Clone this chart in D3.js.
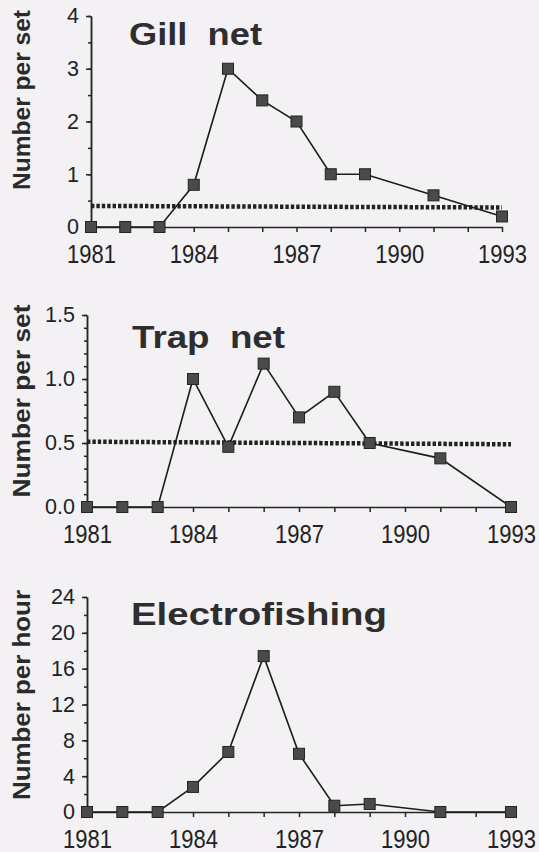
<!DOCTYPE html>
<html>
<head>
<meta charset="utf-8">
<script src="https://cdn.jsdelivr.net/npm/d3@7"></script>
<style>
  body { margin: 0; background: #f3f1f4; }
  svg { display: block; background: #f3f1f4; }
  .axis path, .axis line { stroke: #262626; stroke-width: 1.5; }
  .axis text { font-family: "Liberation Sans", Arial, Helvetica, sans-serif; fill: #222; }
  .title { font-family: "Liberation Sans", Arial, Helvetica, sans-serif; font-weight: bold; font-size: 31px; fill: #2e2e2e; white-space: pre; }
  .ylabel { font-family: "Liberation Sans", Arial, Helvetica, sans-serif; font-weight: bold; font-size: 23px; fill: #2a2a2a; }
</style>
</head>
<body>
<svg width="539" height="852"></svg>
<script>
// data
var years = [1981, 1982, 1983, 1984, 1985, 1986, 1987, 1988, 1989, 1991, 1993];
var gillNet = [0, 0, 0, 0.8, 3.0, 2.4, 2.0, 1.0, 1.0, 0.6, 0.2];
var trapNet = [0, 0, 0, 1.0, 0.47, 1.12, 0.7, 0.9, 0.5, 0.38, 0];
var electrofishing = [0, 0, 0, 2.8, 6.7, 17.4, 6.5, 0.7, 0.9, 0, 0];

// dotted reference lines (value at 1981, value at 1993)
var meanYears = [1981, 1993];
var gillMean = [0.40, 0.37];
var trapMean = [0.51, 0.49];

// axis ticks and labels
var yearTicks = [1981, 1984, 1987, 1990, 1993];
var gillTicks = [0, 1, 2, 3, 4];
var trapTicks = [0.0, 0.5, 1.0, 1.5];
var electroTicks = [0, 4, 8, 12, 16, 20, 24];
var titles = ["Gill  net", "Trap  net", "Electrofishing"];
var yLabels = ["Number per set", "Number per set", "Number per hour"];

var svg = d3.select("svg");

// layout of the three stacked panels
var panels = [
  { values: gillNet, mean: gillMean, ticks: gillTicks, minor: 0.5, fmt: d3.format("d"),
    left: 91, right: 502, top: 16, bottom: 227,
    titleX: 129, titleY: 45, titleW: 133, labelY: 100, labelW: 180 },
  { values: trapNet, mean: trapMean, ticks: trapTicks, minor: 0.1, fmt: d3.format(".1f"),
    left: 87, right: 511, top: 315, bottom: 507,
    titleX: 132, titleY: 348, titleW: 153, labelY: 401, labelW: 193 },
  { values: electrofishing, mean: null, ticks: electroTicks, minor: 2, fmt: d3.format("d"),
    left: 87, right: 511, top: 597, bottom: 812,
    titleX: 131, titleY: 625, titleW: 256, labelY: 695, labelW: 210 }
];

panels.forEach(function(p, i) {
  var yMax = p.ticks[p.ticks.length - 1];

  var x = d3.scaleLinear()
      .domain([1981, 1993])
      .range([p.left, p.right]);

  var y = d3.scaleLinear()
      .domain([0, yMax])
      .range([p.bottom, p.top]);

  var g = svg.append("g").attr("class", "panel");

  // y axis: minor ticks first, then major ticks with labels
  g.append("g")
      .attr("class", "axis")
      .attr("transform", "translate(" + p.left + ",0)")
      .call(d3.axisLeft(y)
        .tickValues(d3.range(0, yMax + p.minor / 2, p.minor))
        .tickSize(3)
        .tickSizeOuter(0)
        .tickFormat(""));

  g.append("g")
      .attr("class", "axis")
      .attr("transform", "translate(" + p.left + ",0)")
      .call(d3.axisLeft(y)
        .tickValues(p.ticks)
        .tickSize(5)
        .tickSizeOuter(0)
        .tickPadding(7)
        .tickFormat(p.fmt))
    .selectAll("text")
      .attr("font-size", 21.5);

  // x axis: a tick every year, labels every third year
  var xAxis = g.append("g")
      .attr("class", "axis")
      .attr("transform", "translate(0," + p.bottom + ")")
      .call(d3.axisBottom(x)
        .tickValues(d3.range(1981, 1994))
        .tickSize(5)
        .tickSizeOuter(0)
        .tickFormat(function(d) { return yearTicks.indexOf(d) >= 0 ? d : ""; }));

  xAxis.selectAll("text")
      .attr("font-size", 22)
      .attr("y", 0)
      .attr("dy", null)
      .attr("transform", "translate(0,36) scale(1,1.15)");

  // dotted reference line
  if (p.mean) {
    g.append("path")
        .datum(meanYears.map(function(d, k) { return [d, p.mean[k]]; }))
        .attr("fill", "none")
        .attr("stroke", "#222")
        .attr("stroke-width", 4.5)
        .attr("stroke-dasharray", "3.4,2")
        .attr("d", d3.line()
          .x(function(d) { return x(d[0]); })
          .y(function(d) { return y(d[1]); }));
  }

  var pts = years.map(function(d, k) { return [d, p.values[k]]; });

  // series line
  g.append("path")
      .datum(pts)
      .attr("fill", "none")
      .attr("stroke", "#1c1c1c")
      .attr("stroke-width", 1.6)
      .attr("d", d3.line()
        .x(function(d) { return x(d[0]); })
        .y(function(d) { return y(d[1]); }));

  // square markers
  g.selectAll("rect.marker")
      .data(pts)
    .enter().append("rect")
      .attr("class", "marker")
      .attr("x", function(d) { return x(d[0]) - 5.5; })
      .attr("y", function(d) { return y(d[1]) - 5.5; })
      .attr("width", 11)
      .attr("height", 11)
      .attr("fill", "#4a4a4a")
      .attr("stroke", "#232323")
      .attr("stroke-width", 1);

  // panel title, glyphs stretched to the scanned width
  g.append("text")
      .attr("class", "title")
      .attr("x", p.titleX)
      .attr("y", p.titleY)
      .attr("textLength", p.titleW)
      .attr("lengthAdjust", "spacingAndGlyphs")
      .text(titles[i]);

  // rotated y label
  g.append("text")
      .attr("class", "ylabel")
      .attr("transform", "translate(30," + p.labelY + ") rotate(-90)")
      .attr("text-anchor", "middle")
      .attr("textLength", p.labelW)
      .attr("lengthAdjust", "spacingAndGlyphs")
      .text(yLabels[i]);
});
</script>
</body>
</html>
